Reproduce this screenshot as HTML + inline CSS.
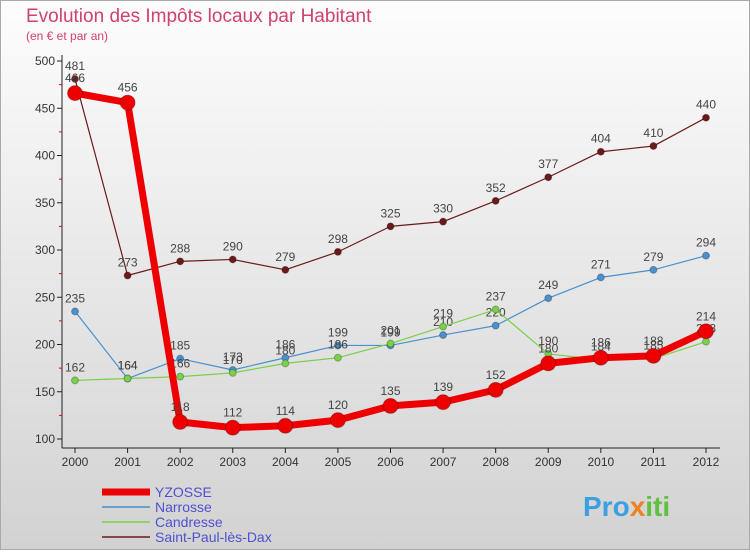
<!DOCTYPE html>
<html><head><meta charset="utf-8"><style>
body{margin:0;width:750px;height:550px;overflow:hidden;font-family:"Liberation Sans",sans-serif}
</style></head><body>
<svg width="750" height="550" xmlns="http://www.w3.org/2000/svg" font-family="Liberation Sans, sans-serif">
<defs><linearGradient id="bg" x1="0" y1="0" x2="0" y2="1"><stop offset="0" stop-color="#fdfdfd"/><stop offset="1" stop-color="#d2d2d2"/></linearGradient></defs>
<rect x="0.5" y="0.5" width="749" height="549" fill="url(#bg)" stroke="#aaa"/>
<text x="26" y="22" font-size="19" fill="#d04070">Evolution des Impôts locaux par Habitant</text>
<text x="26" y="40" font-size="12" fill="#d04070">(en € et par an)</text>
<g id="axes"></g><g id="series"></g><g id="legend"></g>
<text x="583" y="516" font-size="28" font-weight="bold" fill="#3aa0e0">Pro<tspan fill="#f08020">x</tspan><tspan fill="#60c040">iti</tspan></text>
</svg>
<script>
const years=[2000,2001,2002,2003,2004,2005,2006,2007,2008,2009,2010,2011,2012];
const yTicks=[100,150,200,250,300,350,400,450,500];
const yzosse=[466,456,118,112,114,120,135,139,152,180,186,188,214];
const narrosse=[235,164,185,173,186,199,199,210,220,249,271,279,294];
const candresse=[162,164,166,170,180,186,201,219,237,190,184,185,203];
const saintPaul=[481,273,288,290,279,298,325,330,352,377,404,410,440];
const NS="http://www.w3.org/2000/svg";
const X=i=>75+i*(706-75)/12;
const Y=v=>439-(v-100)*(439-61)/400;
function mk(t,a,p){const e=document.createElementNS(NS,t);for(const k in a)e.setAttribute(k,a[k]);p.appendChild(e);return e;}
const ax=document.getElementById('axes');
let e=mk('line',{x1:62,y1:55,x2:62,y2:448,stroke:'#222'},ax);


e=mk('line',{x1:62,y1:448,x2:720,y2:448,stroke:'#222'},ax);


yTicks.forEach(v=>{mk('line',{x1:57,y1:Y(v),x2:62,y2:Y(v),stroke:'#222'},ax);
 const t=mk('text',{x:55,y:Y(v)+4,'font-size':12,'text-anchor':'end',fill:'#333'},ax);t.textContent=v;
 
 
 if(v<500)mk('line',{x1:59,y1:Y(v+25),x2:62,y2:Y(v+25),stroke:'#e00'},ax);});
years.forEach((y,i)=>{mk('line',{x1:X(i),y1:448,x2:X(i),y2:453,stroke:'#222'},ax);
 const t=mk('text',{x:X(i),y:466,'font-size':12,'text-anchor':'middle',fill:'#333'},ax);t.textContent=y;
 
 });
const sg=document.getElementById('series');
function series(d,col,w,r,name){
 const g=mk('g',{},sg);
 
 
 mk('polyline',{points:d.map((v,i)=>X(i)+','+Y(v)).join(' '),fill:'none',stroke:col,'stroke-width':w,'stroke-linejoin':'round'},g);
 d.forEach((v,i)=>{const c=mk('circle',{cx:X(i),cy:Y(v),r:r,fill:col,stroke:'rgba(0,0,0,0.25)'},g);
  
  
  const t=mk('text',{x:X(i),y:Y(v)-9-(w>3?2:0),'font-size':12,'text-anchor':'middle',fill:'#444'},g);t.textContent=v;
  
  });
}
series(saintPaul,'#6b1a1a',1.2,3.5,'saint-paul');
series(narrosse,'#4a90cc',1.2,3.5,'narrosse');
series(candresse,'#7ad04a',1.2,3.5,'candresse');
series(yzosse,'#ee0000',7,7.5,'yzosse');
const lg=document.getElementById('legend');
[['YZOSSE','#ee0000',7],['Narrosse','#4a90cc',1.5],['Candresse','#7ad04a',1.5],['Saint-Paul-lès-Dax','#6b1a1a',1.5]].forEach((l,i)=>{
 const y=492+i*15;
 const ln=mk('line',{x1:102,y1:y,x2:150,y2:y,stroke:l[1],'stroke-width':l[2]},lg);
 
 
 const t=mk('text',{x:155,y:y+5,'font-size':14,fill:'#5050d0'},lg);t.textContent=l[0];
 
 
});
</script>
</body></html>
